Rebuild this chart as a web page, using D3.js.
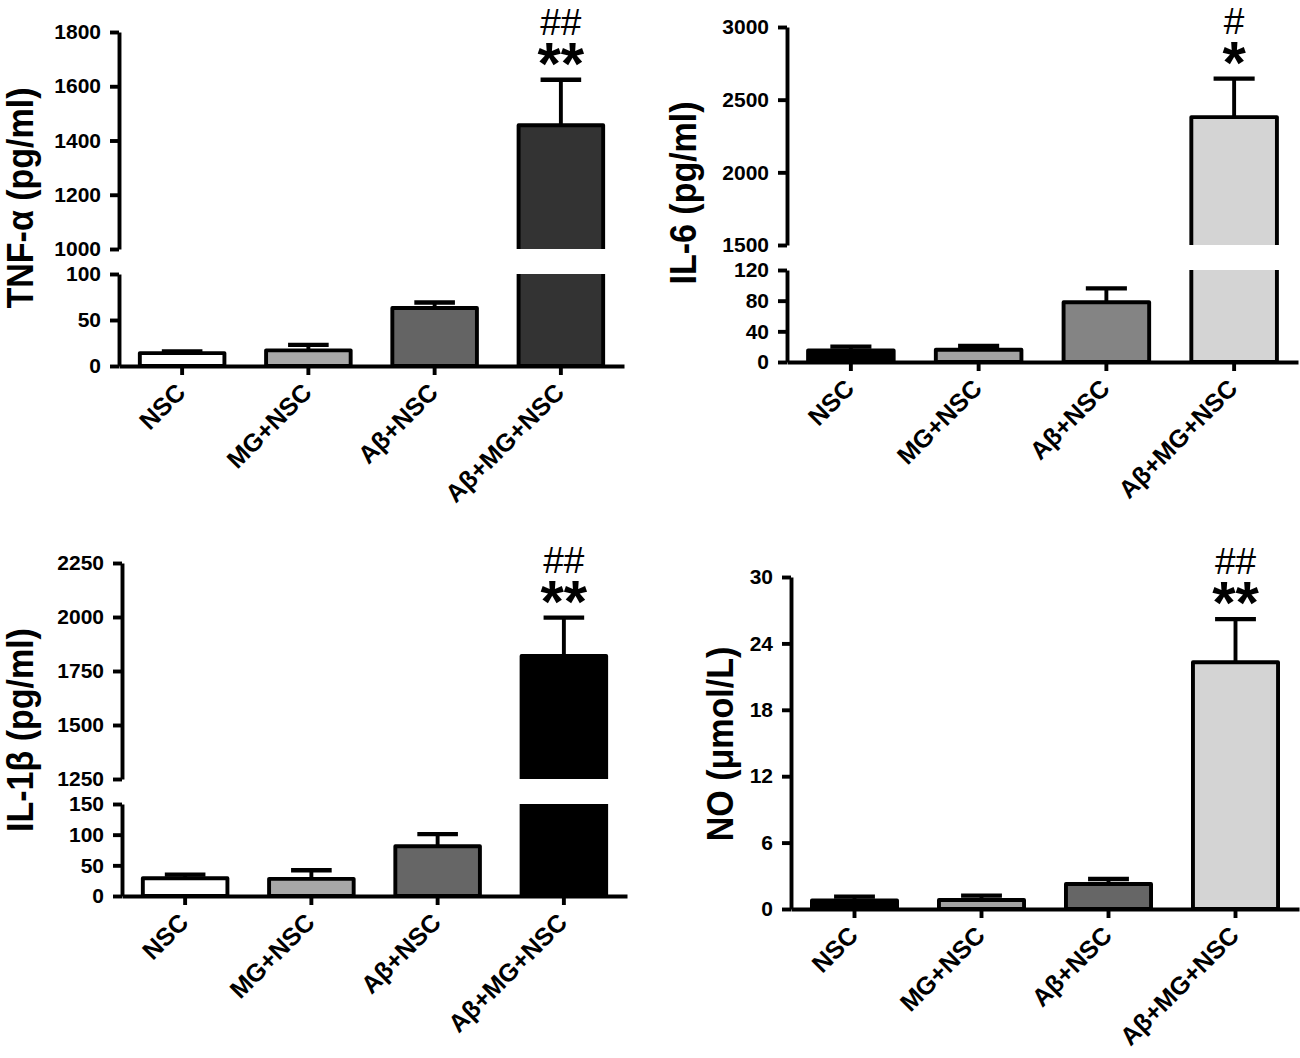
<!DOCTYPE html>
<html>
<head>
<meta charset="utf-8">
<script src="https://cdn.jsdelivr.net/npm/d3@7"></script>
<style>
  body { margin: 0; background: #fff; }
  svg { font-family: "Liberation Sans", Arial, sans-serif; }
</style>
</head>
<body>
<script>
// groups on the x axis
const groups = ["NSC", "MG+NSC", "Aβ+NSC", "Aβ+MG+NSC"];

// mean and SEM
const tnfMean = [14, 17, 63, 1456];
const tnfSem = [2, 6, 6, 168];
const il6Mean = [15, 16, 78, 2380];
const il6Sem = [5, 5, 18, 265];
const il1bMean = [29, 28, 81, 1820];
const il1bSem = [6, 14, 20, 177];
const noMean = [0.77, 0.81, 2.26, 22.3];
const noSem = [0.34, 0.39, 0.45, 3.9];

// tick labels (lower / upper segment of the broken axes)
const tnfLowTicks = [0, 50, 100];
const tnfHighTicks = [1000, 1200, 1400, 1600, 1800];
const il6LowTicks = [0, 40, 80, 120];
const il6HighTicks = [1500, 2000, 2500, 3000];
const il1bLowTicks = [0, 50, 100, 150];
const il1bHighTicks = [1250, 1500, 1750, 2000, 2250];
const noTicks = [0, 6, 12, 18, 24, 30];

// bar fills
const tnfColors = ["#ffffff", "#a8a8a8", "#646464", "#333333"];
const il6Colors = ["#000000", "#a2a2a2", "#848484", "#d4d4d4"];
const il1bColors = ["#ffffff", "#a8a8a8", "#666666", "#000000"];
const noColors = ["#000000", "#a2a2a2", "#666666", "#d4d4d4"];

// significance marks over the last bar: [vs MG+NSC, vs NSC]
const tnfSig = ["##", "**"];
const il6Sig = ["#", "*"];
const il1bSig = ["##", "**"];
const noSig = ["##", "**"];

const svg = d3.select("body")
    .append("svg")
    .attr("width", 1300)
    .attr("height", 1058);

const panels = [
    { title: "TNF-α (pg/ml)", mean: tnfMean, sem: tnfSem, colors: tnfColors, sig: tnfSig,
      lowTicks: tnfLowTicks, highTicks: tnfHighTicks,
      axisX: 119, xEnd: 624, y0: 366, lowTop: 274, upBottom: 249, upTop: 32, titleX: 33, titleY: 198 },
    { title: "IL-6 (pg/ml)", mean: il6Mean, sem: il6Sem, colors: il6Colors, sig: il6Sig,
      lowTicks: il6LowTicks, highTicks: il6HighTicks,
      axisX: 787, xEnd: 1298, y0: 362, lowTop: 270, upBottom: 245, upTop: 27, titleX: 696, titleY: 193 },
    { title: "IL-1β (pg/ml)", mean: il1bMean, sem: il1bSem, colors: il1bColors, sig: il1bSig,
      lowTicks: il1bLowTicks, highTicks: il1bHighTicks,
      axisX: 122, xEnd: 627, y0: 896, lowTop: 804, upBottom: 779, upTop: 563, titleX: 33, titleY: 730 },
    { title: "NO (μmol/L)", mean: noMean, sem: noSem, colors: noColors, sig: noSig,
      lowTicks: noTicks, highTicks: null,
      axisX: 791, xEnd: 1299, y0: 909, lowTop: 577, titleX: 733, titleY: 744 }
];

const stroke = 3.9;

panels.forEach(drawPanel);

function drawPanel(p) {
    const g = svg.append("g");

    const x = d3.scaleBand()
        .domain(groups)
        .range([p.axisX, p.xEnd])
        .paddingInner(0.33)
        .paddingOuter(0.165);

    const lowMax = d3.max(p.lowTicks);
    const yLow = d3.scaleLinear().domain([0, lowMax]).range([p.y0, p.lowTop]);
    let yHigh = null;
    if (p.highTicks) {
        yHigh = d3.scaleLinear()
            .domain(d3.extent(p.highTicks))
            .range([p.upBottom, p.upTop]);
    }
    const yv = v => (v <= lowMax || !yHigh) ? yLow(v) : yHigh(v);

    // bars
    groups.forEach((grp, i) => {
        const left = x(grp);
        const right = left + x.bandwidth();
        const v = p.mean[i];
        if (v <= lowMax || !yHigh) {
            g.append("rect")
                .attr("x", left)
                .attr("y", yLow(v))
                .attr("width", x.bandwidth())
                .attr("height", p.y0 - yLow(v))
                .attr("fill", p.colors[i])
                .attr("stroke", "#000")
                .attr("stroke-width", stroke)
                .attr("stroke-linejoin", "round");
        } else {
            // broken bar: lower piece and upper piece, open at the break
            g.append("rect")
                .attr("x", left).attr("y", p.lowTop)
                .attr("width", x.bandwidth()).attr("height", p.y0 - p.lowTop)
                .attr("fill", p.colors[i]);
            g.append("rect")
                .attr("x", left).attr("y", yHigh(v))
                .attr("width", x.bandwidth()).attr("height", p.upBottom - yHigh(v))
                .attr("fill", p.colors[i]);
            const lo = d3.path();
            lo.moveTo(left, p.lowTop); lo.lineTo(left, p.y0);
            lo.lineTo(right, p.y0); lo.lineTo(right, p.lowTop);
            const hi = d3.path();
            hi.moveTo(left, p.upBottom); hi.lineTo(left, yHigh(v));
            hi.lineTo(right, yHigh(v)); hi.lineTo(right, p.upBottom);
            [lo, hi].forEach(pt => g.append("path")
                .attr("d", pt.toString())
                .attr("fill", "none")
                .attr("stroke", "#000")
                .attr("stroke-width", stroke)
                .attr("stroke-linejoin", "round"));
        }

        // upper error bar
        const cx = left + x.bandwidth() / 2;
        const top = yv(v + p.sem[i]);
        const capW = x.bandwidth() * 0.48;
        g.append("line")
            .attr("x1", cx).attr("x2", cx)
            .attr("y1", yv(v)).attr("y2", top)
            .attr("stroke", "#000").attr("stroke-width", stroke);
        g.append("line")
            .attr("x1", cx - capW / 2).attr("x2", cx + capW / 2)
            .attr("y1", top).attr("y2", top)
            .attr("stroke", "#000").attr("stroke-width", stroke + 0.4);

        if (i === groups.length - 1) {
            g.append("text")
                .attr("x", cx).attr("y", top - 58 + 13)
                .attr("text-anchor", "middle")
                .attr("font-size", 37)
                .text(p.sig[0]);
            g.append("text")
                .attr("x", cx).attr("y", top - 21 + 25)
                .attr("text-anchor", "middle")
                .attr("font-size", 60)
                .attr("font-weight", "bold")
                .text(p.sig[1]);
        }
    });

    // y axes
    const styleAxis = sel => {
        sel.selectAll("path.domain, line")
            .attr("stroke", "#000")
            .attr("stroke-width", stroke);
        sel.selectAll("text")
            .attr("fill", "#000")
            .attr("font-size", 21)
            .attr("font-weight", "bold")
            .attr("font-family", "'Liberation Sans', Arial, sans-serif");
    };

    g.append("g")
        .attr("transform", `translate(${p.axisX},0)`)
        .call(d3.axisLeft(yLow).tickValues(p.lowTicks).tickFormat(d3.format("d"))
            .tickSize(9).tickSizeOuter(0))
        .call(styleAxis)
        .call(a => a.selectAll("text").attr("x", -18));

    if (yHigh) {
        g.append("g")
            .attr("transform", `translate(${p.axisX},0)`)
            .call(d3.axisLeft(yHigh).tickValues(p.highTicks).tickFormat(d3.format("d"))
                .tickSize(9).tickSizeOuter(0))
            .call(styleAxis)
            .call(a => a.selectAll("text").attr("x", -18));
    }

    // x axis
    g.append("g")
        .attr("transform", `translate(0,${p.y0})`)
        .call(d3.axisBottom(x).tickSize(9).tickSizeOuter(0))
        .call(styleAxis)
        .call(a => a.selectAll("text")
            .attr("font-size", 25)
            .attr("text-anchor", "end")
            .attr("x", 0).attr("y", 0).attr("dy", 0)
            .attr("transform", "translate(5,28) rotate(-45)"));

    // y title
    g.append("text")
        .attr("transform", `translate(${p.titleX},${p.titleY}) rotate(-90) scale(1,1.06)`)
        .attr("text-anchor", "middle")
        .attr("font-size", 34)
        .attr("font-weight", "bold")
        .text(p.title);
}
</script>
</body>
</html>
